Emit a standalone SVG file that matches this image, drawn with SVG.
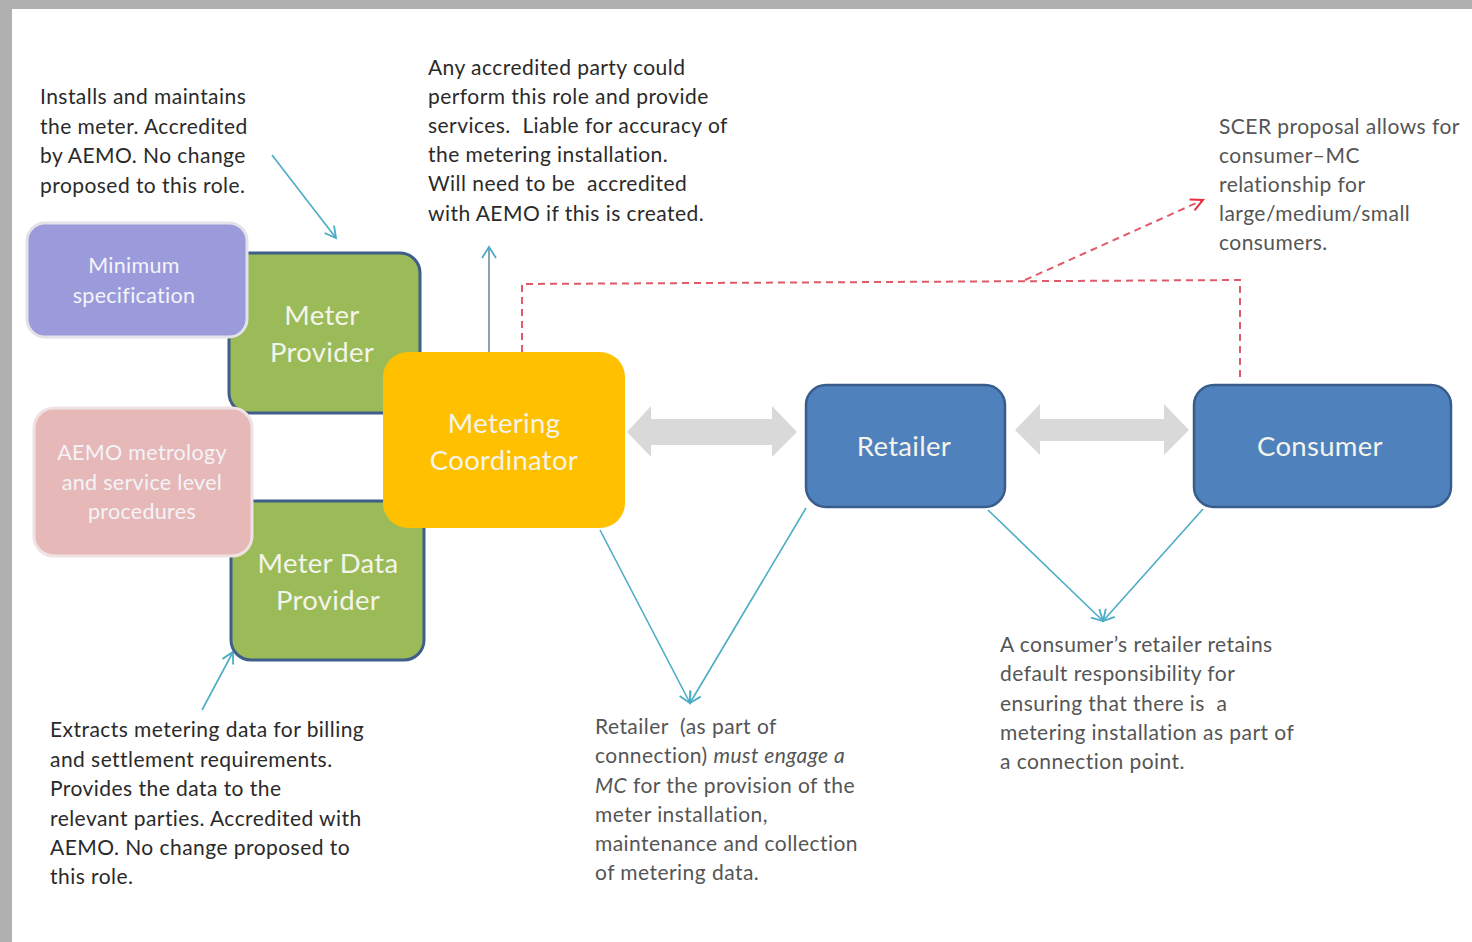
<svg xmlns="http://www.w3.org/2000/svg" width="1472" height="942" viewBox="0 0 1472 942">
<defs>
<style>
.note{font-family:Lato,"Liberation Sans",sans-serif;font-size:21px;letter-spacing:0.45px;fill:#2a2a2a}
.note2{font-family:Lato,"Liberation Sans",sans-serif;font-size:21px;letter-spacing:0.45px;fill:#555}
.lbl{font-family:Lato,"Liberation Sans",sans-serif;font-size:27.5px;letter-spacing:0.3px;fill:#f4f4ea;text-anchor:middle}
.lbls{font-family:Lato,"Liberation Sans",sans-serif;font-size:21.5px;letter-spacing:0.3px;fill:#f4f4f8;text-anchor:middle}
.conn{fill:none;stroke:#4bacc6;stroke-width:1.6}
.red{fill:none;stroke:#e05a6a;stroke-width:2;stroke-dasharray:7,5}
.dbl{fill:#d9d9d9}
</style>
<marker id="ah" markerWidth="14" markerHeight="14" refX="12" refY="7" orient="auto" markerUnits="userSpaceOnUse">
<path d="M1,1 L12,7 L1,13" fill="none" stroke="#4bacc6" stroke-width="1.8"/>
</marker>
<marker id="ahr" markerWidth="16" markerHeight="14" refX="13" refY="7" orient="auto" markerUnits="userSpaceOnUse">
<path d="M1,1 L13,7 L1,13" fill="none" stroke="#e8303f" stroke-width="2"/>
</marker>
</defs>
<rect x="0" y="0" width="1472" height="942" fill="#b0b0b0"/>
<rect x="12" y="9" width="1460" height="933" fill="#ffffff"/>

<g id="connectors">
<line class="conn" x1="272" y1="155" x2="336" y2="238" marker-end="url(#ah)"/>
<line x1="489" y1="352" x2="489" y2="247" stroke="#8fa3ad" stroke-width="2"/>
<path d="M482,258 L489,247 L496,258" fill="none" stroke="#4bacc6" stroke-width="1.8"/>
<path class="red" d="M522,352 L522,284 L1240,280 L1240,378"/>
<line class="red" x1="1025" y1="280" x2="1203" y2="200" stroke="#e8303f" marker-end="url(#ahr)"/>
<line class="conn" x1="600" y1="530" x2="690" y2="703" marker-end="url(#ah)"/>
<line class="conn" x1="806" y1="508" x2="690" y2="703" marker-end="url(#ah)"/>
<line class="conn" x1="988" y1="510" x2="1103" y2="621" marker-end="url(#ah)"/>
<line class="conn" x1="1203" y1="509" x2="1103" y2="621" marker-end="url(#ah)"/>
<line class="conn" x1="202" y1="710" x2="233" y2="652" marker-end="url(#ah)"/>
<path class="dbl" d="M627,432 L651,406 L651,419 L772,419 L772,406 L797,432 L772,457 L772,445 L651,445 L651,457 Z"/>
<path class="dbl" d="M1015,430 L1040,404 L1040,419 L1164,419 L1164,404 L1189,430 L1164,455 L1164,441 L1040,441 L1040,455 Z"/>
</g>

<g id="meter-provider">
<rect x="229" y="253" width="191" height="160" rx="20" fill="#9bbb59" stroke="#3f5f8a" stroke-width="3"/>
<text class="lbl" x="322" y="325">Meter</text>
<text class="lbl" x="322" y="362">Provider</text>
</g>
<g id="meter-data-provider">
<rect x="231" y="501" width="193" height="159" rx="20" fill="#9bbb59" stroke="#3f5f8a" stroke-width="3"/>
<text class="lbl" x="328" y="573">Meter Data</text>
<text class="lbl" x="328" y="610">Provider</text>
</g>
<g id="minimum-specification">
<rect x="27" y="223" width="220" height="114" rx="18" fill="#9b9bdc" stroke="#e2e2e8" stroke-width="3"/>
<text class="lbls" x="134" y="273">Minimum</text>
<text class="lbls" x="134" y="303">specification</text>
</g>
<g id="aemo-procedures">
<rect x="34" y="408" width="218" height="148" rx="20" fill="#e6b8b8" stroke="#f0e2e2" stroke-width="3"/>
<text class="lbls" x="142" y="460">AEMO metrology</text>
<text class="lbls" x="142" y="490">and service level</text>
<text class="lbls" x="142" y="519">procedures</text>
</g>
<g id="metering-coordinator">
<rect x="383" y="352" width="242" height="176" rx="25" fill="#ffc000"/>
<text class="lbl" x="504" y="433">Metering</text>
<text class="lbl" x="504" y="470">Coordinator</text>
</g>
<g id="retailer">
<rect x="806" y="385" width="199" height="122" rx="20" fill="#4f81bd" stroke="#385d8a" stroke-width="2.5"/>
<text class="lbl" x="904" y="456">Retailer</text>
</g>
<g id="consumer">
<rect x="1194" y="385" width="257" height="122" rx="20" fill="#4f81bd" stroke="#385d8a" stroke-width="2.5"/>
<text class="lbl" x="1320" y="456">Consumer</text>
</g>

<g id="note-meter-provider">
<text class="note" x="40" y="104">Installs and maintains</text>
<text class="note" x="40" y="134">the meter. Accredited</text>
<text class="note" x="40" y="163">by AEMO. No change</text>
<text class="note" x="40" y="193">proposed to this role.</text>
</g>
<g id="note-mc">
<text class="note" x="428" y="75">Any accredited party could</text>
<text class="note" x="428" y="104">perform this role and provide</text>
<text class="note" x="428" y="133" xml:space="preserve">services.  Liable for accuracy of</text>
<text class="note" x="428" y="162">the metering installation.</text>
<text class="note" x="428" y="191" xml:space="preserve">Will need to be  accredited</text>
<text class="note" x="428" y="221">with AEMO if this is created.</text>
</g>
<g id="note-scer">
<text class="note2" x="1219" y="134">SCER proposal allows for</text>
<text class="note2" x="1219" y="163">consumer–MC</text>
<text class="note2" x="1219" y="192">relationship for</text>
<text class="note2" x="1219" y="221">large/medium/small</text>
<text class="note2" x="1219" y="250">consumers.</text>
</g>
<g id="note-mdp">
<text class="note" x="50" y="737">Extracts metering data for billing</text>
<text class="note" x="50" y="767">and settlement requirements.</text>
<text class="note" x="50" y="796">Provides the data to the</text>
<text class="note" x="50" y="826">relevant parties. Accredited with</text>
<text class="note" x="50" y="855">AEMO. No change proposed to</text>
<text class="note" x="50" y="884">this role.</text>
</g>
<g id="note-retailer">
<text class="note2" x="595" y="734" xml:space="preserve">Retailer  (as part of</text>
<text class="note2" x="595" y="763">connection) <tspan font-style="italic">must engage a</tspan></text>
<text class="note2" x="595" y="793"><tspan font-style="italic">MC</tspan> for the provision of the</text>
<text class="note2" x="595" y="822">meter installation,</text>
<text class="note2" x="595" y="851">maintenance and collection</text>
<text class="note2" x="595" y="880">of metering data.</text>
</g>
<g id="note-consumer">
<text class="note2" x="1000" y="652">A consumer’s retailer retains</text>
<text class="note2" x="1000" y="681">default responsibility for</text>
<text class="note2" x="1000" y="711" xml:space="preserve">ensuring that there is  a</text>
<text class="note2" x="1000" y="740">metering installation as part of</text>
<text class="note2" x="1000" y="769">a connection point.</text>
</g>
</svg>
